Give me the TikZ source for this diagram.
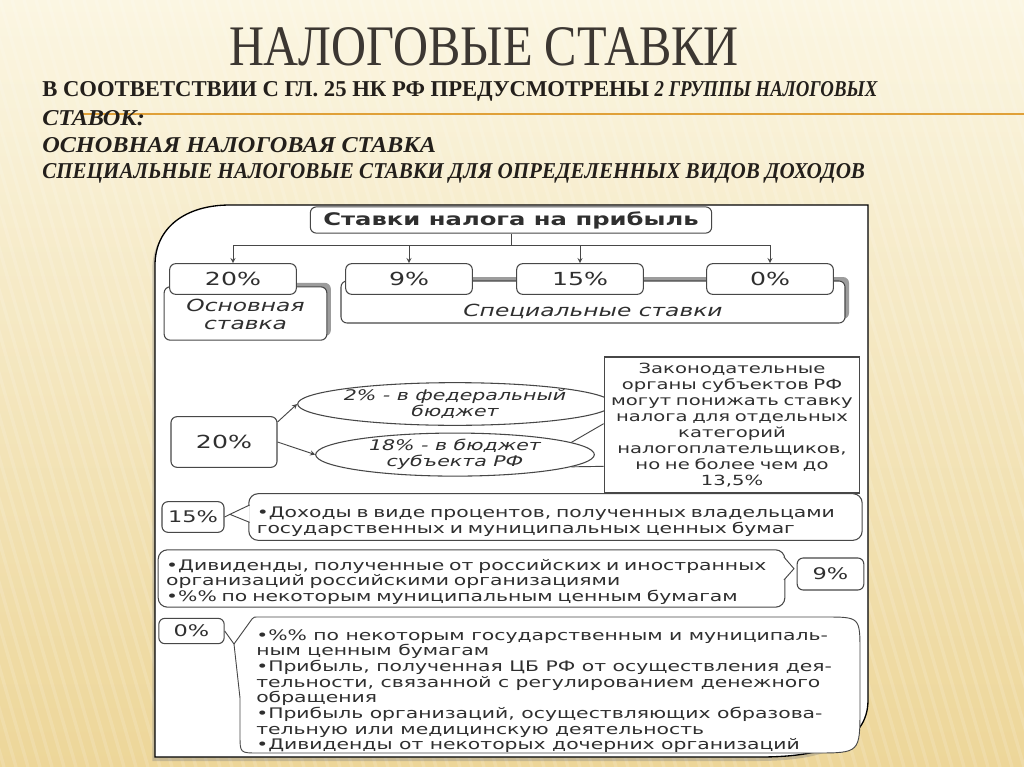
\documentclass[tikz,border=0pt]{standalone}
\usepackage{fontspec}
\setmainfont{Liberation Serif}
\newfontfamily\headfont[FakeStretch=0.845]{Liberation Serif}
\newfontfamily\subfontA[FakeStretch=1.0]{Liberation Serif}
\newfontfamily\subfontB[FakeStretch=0.83]{Liberation Serif}
\newfontfamily\subfontC[FakeStretch=1.07]{Liberation Serif}
\newfontfamily\subfontD[FakeStretch=0.93]{Liberation Serif}
\newfontfamily\diagfont[FakeStretch=1.4]{DejaVu Sans}
\usepackage[rgb]{xcolor}
\definecolor{slideTop}{HTML}{FBF6E2}
\definecolor{slideMid}{HTML}{F6E7B6}
\definecolor{slideLow}{HTML}{EDD699}
\definecolor{ruleGold}{HTML}{E0A038}
\definecolor{inkDark}{HTML}{231F1B}
\definecolor{titleInk}{HTML}{3C3732}
\definecolor{boxLine}{HTML}{474747}
\definecolor{boxShade}{HTML}{9C9C9C}
\definecolor{diagInk}{HTML}{2F2F2F}
\usepackage{tikz}
\usetikzlibrary{shapes}
\usetikzlibrary{arrows}
\usetikzlibrary{positioning}
\usetikzlibrary{shadows}
\tikzstyle{rate} = [rectangle, rounded corners=4.5pt, draw=boxLine, line width=0.8pt, fill=white,
        text=diagInk, font={\diagfont\fontsize{13.5}{15}\selectfont}]
\tikzstyle{group} = [rate, font={\diagfont\itshape\fontsize{12.5}{13.5}\selectfont},
        drop shadow={shadow xshift=3pt, shadow yshift=3pt, fill=boxShade, opacity=1}]
\tikzstyle{share} = [ellipse, draw=boxLine, line width=0.8pt, fill=white, inner sep=0pt, align=center,
        text=diagInk, font={\diagfont\itshape\fontsize{11}{12}\selectfont}]
\tikzstyle{note} = [rectangle, draw=boxLine, line width=0.8pt, fill=white, align=center,
        text=diagInk, font={\diagfont\fontsize{10.5}{12}\selectfont}]
\tikzstyle{bubble} = [rectangle, rounded corners=7pt, draw=boxLine, line width=0.8pt, fill=white,
        align=left, inner xsep=6pt, inner ysep=1pt, text=diagInk, font={\diagfont\fontsize{10.9}{11.6}\selectfont}]
\tikzstyle{headline} = [anchor=base west, inner sep=0pt, text=inkDark]
\tikzstyle{link} = [draw=boxLine, line width=0.7pt]
\begin{document}
\begin{tikzpicture}[x=0.75pt,y=-0.75pt]
    \useasboundingbox (0,0) rectangle (1024,767);
    % slide background
    \shade[top color=slideTop, middle color=slideMid, bottom color=slideLow] (0,0) rectangle (1024,767);
    \begin{scope}
        \clip (0,0) rectangle (1024,767);
        \foreach \s in {-300,-288,...,1024}
            \draw[white, opacity=0.14, line width=2.5pt] (\s,0) -- (\s+220,767);
    \end{scope}
    \draw[ruleGold, line width=1.6pt] (80,114) -- (1024,114);
    % heading
    \node[anchor=base, text=titleInk, font={\headfont\fontsize{43}{46}\selectfont}] (title) at (484,65) {НАЛОГОВЫЕ СТАВКИ};
    \node[headline, font={\subfontA\bfseries\fontsize{17}{18}\selectfont}] (lineA) at (42,97)
        {В СООТВЕТСТВИИ С ГЛ. 25 НК РФ ПРЕДУСМОТРЕНЫ {\subfontB\itshape 2 ГРУППЫ НАЛОГОВЫХ}};
    \node[headline, font={\subfontC\bfseries\itshape\fontsize{17}{18}\selectfont}] (lineB) at (42,125) {СТАВОК:};
    \node[headline, font={\subfontC\bfseries\itshape\fontsize{17}{18}\selectfont}] (lineC) at (42,152) {ОСНОВНАЯ НАЛОГОВАЯ СТАВКА};
    \node[headline, font={\subfontD\bfseries\itshape\fontsize{17}{18}\selectfont}] (lineD) at (42,178) {СПЕЦИАЛЬНЫЕ НАЛОГОВЫЕ СТАВКИ ДЛЯ ОПРЕДЕЛЕННЫХ ВИДОВ ДОХОДОВ};
    % panel
    \path[draw=black, line width=1pt, fill=white,
          drop shadow={shadow xshift=-2pt, shadow yshift=-3pt, opacity=0.35}]
        (155,757) -- (155,265) .. controls (155,228) and (185,205) .. (230,205)
        -- (868,205) -- (868,700) .. controls (868,742) and (825,757) .. (760,757) -- cycle;
    % rates
    \node[rate, font={\diagfont\bfseries\fontsize{13}{14}\selectfont}, minimum width=301pt, minimum height=19.5pt] (head) at (511,220) {Ставки налога на прибыль};
    \node[group, minimum width=122pt, minimum height=40pt] (basic) at (245.5,313.5)
        {\raisebox{-5.6pt}[0pt][0pt]{\begin{tabular}{@{}c@{}}Основная\\ставка\end{tabular}}};
    \node[group, minimum width=378pt, minimum height=31.5pt] (special) at (593,302)
        {\raisebox{-10.5pt}[0pt][0pt]{Специальные ставки}};
    \node[rate, minimum width=95pt, minimum height=23pt] (r20) at (233,279) {20\%};
    \node[rate, minimum width=95pt, minimum height=23pt] (r9) at (409,279) {9\%};
    \node[rate, minimum width=95pt, minimum height=23pt] (r15) at (580,279) {15\%};
    \node[rate, minimum width=95pt, minimum height=23pt] (r0) at (770,279) {0\%};
    \coordinate (fork) at (511,245);
    \draw[link] (head.south) -- (fork);
    \foreach \r in {r20,r9,r15,r0}
        \draw[link, -stealth] (fork) -| (\r.north);
    % split of the 20% rate
    \node[share, minimum width=209pt, minimum height=32pt] (fed) at (455,404) {2\% - в федеральный\\бюджет};
    \node[share, minimum width=209pt, minimum height=31pt, below=5pt of fed] (reg) {18\% - в бюджет\\субъекта РФ};
    \node[rate, minimum width=79.5pt, minimum height=38pt] (b20) at (224,442) {20\%};
    \node[note, text width=185pt, minimum height=102pt] (power) at (732,425)
        {Законодательные\\органы субъектов РФ\\могут понижать ставку\\налога для отдельных\\категорий\\налогоплательщиков,\\но не более чем до\\13,5\%};
    \draw[link, -stealth] ([yshift=15pt]b20.east) -- (fed.west);
    \draw[link, -stealth] (b20.east) -- (reg.west);
    \draw[link] (reg.6) -- ([yshift=1pt]power.west);
    \draw[link] (reg.-6) -- ([yshift=-31pt]power.west);
    % 15%
    \node[rate, font={\diagfont\fontsize{12}{14}\selectfont}, minimum width=46.5pt, minimum height=23pt] (b15) at (193,517) {15\%};
    \node[bubble, text width=448pt, minimum height=35pt] (bonds) at (555.5,517)
        {\rule{0pt}{15pt}•Доходы в виде процентов, полученных владельцами\\государственных и муниципальных ценных бумаг};
    \coordinate (tip15) at ([xshift=4pt,yshift=2pt]b15.east);
    \draw[link] (b15.east) -- (tip15);
    \filldraw[link, fill=white] ([xshift=1pt,yshift=9pt]bonds.west) -- (tip15) -- ([xshift=1pt,yshift=-4pt]bonds.west);
    % 9%
    \node[rate, font={\diagfont\fontsize{12}{14}\selectfont}, minimum width=50pt, minimum height=24pt] (b9) at (830.5,574) {9\%};
    \node[bubble, text width=458pt, minimum height=43pt] (divs) at (471.5,578.5)
        {\rule{0pt}{13pt}•Дивиденды, полученные от российских и иностранных\\организаций российскими организациями\\•\%\% по некоторым муниципальным ценным бумагам};
    \coordinate (tip9) at ([xshift=-2pt,yshift=4pt]b9.west);
    \filldraw[link, fill=white] ([xshift=-1pt,yshift=16pt]divs.east) -- (tip9) -- ([xshift=-1pt,yshift=-1pt]divs.east);
    % 0%
    \node[rate, font={\diagfont\fontsize{12}{14}\selectfont}, minimum width=49pt, minimum height=19pt] (b0) at (191.5,631) {0\%};
    \coordinate (tip0) at (234,644);
    \draw[link] (b0.east) -- (tip0);
    \path[link, fill=white] (tip0) -- (252,619) .. controls (254,617) .. (258,617)
        -- (825,617) .. controls (860,617) .. (860,652)
        -- (860,708) .. controls (860,753) .. (815,753)
        -- (258,753) .. controls (240,753) .. (240,735)
        -- (240,698) -- cycle;
    \node[anchor=north west, align=left, inner sep=0pt, text=diagInk, font={\diagfont\fontsize{10.9}{11.75}\selectfont}] (zero) at (256,629)
        {•\%\% по некоторым государственным и муниципаль-\\ным ценным бумагам\\•Прибыль, полученная ЦБ РФ от осуществления дея-\\тельности, связанной с регулированием денежного\\обращения\\•Прибыль организаций, осуществляющих образова-\\тельную или медицинскую деятельность\\•Дивиденды от некоторых дочерних организаций};
\end{tikzpicture}
\end{document}
